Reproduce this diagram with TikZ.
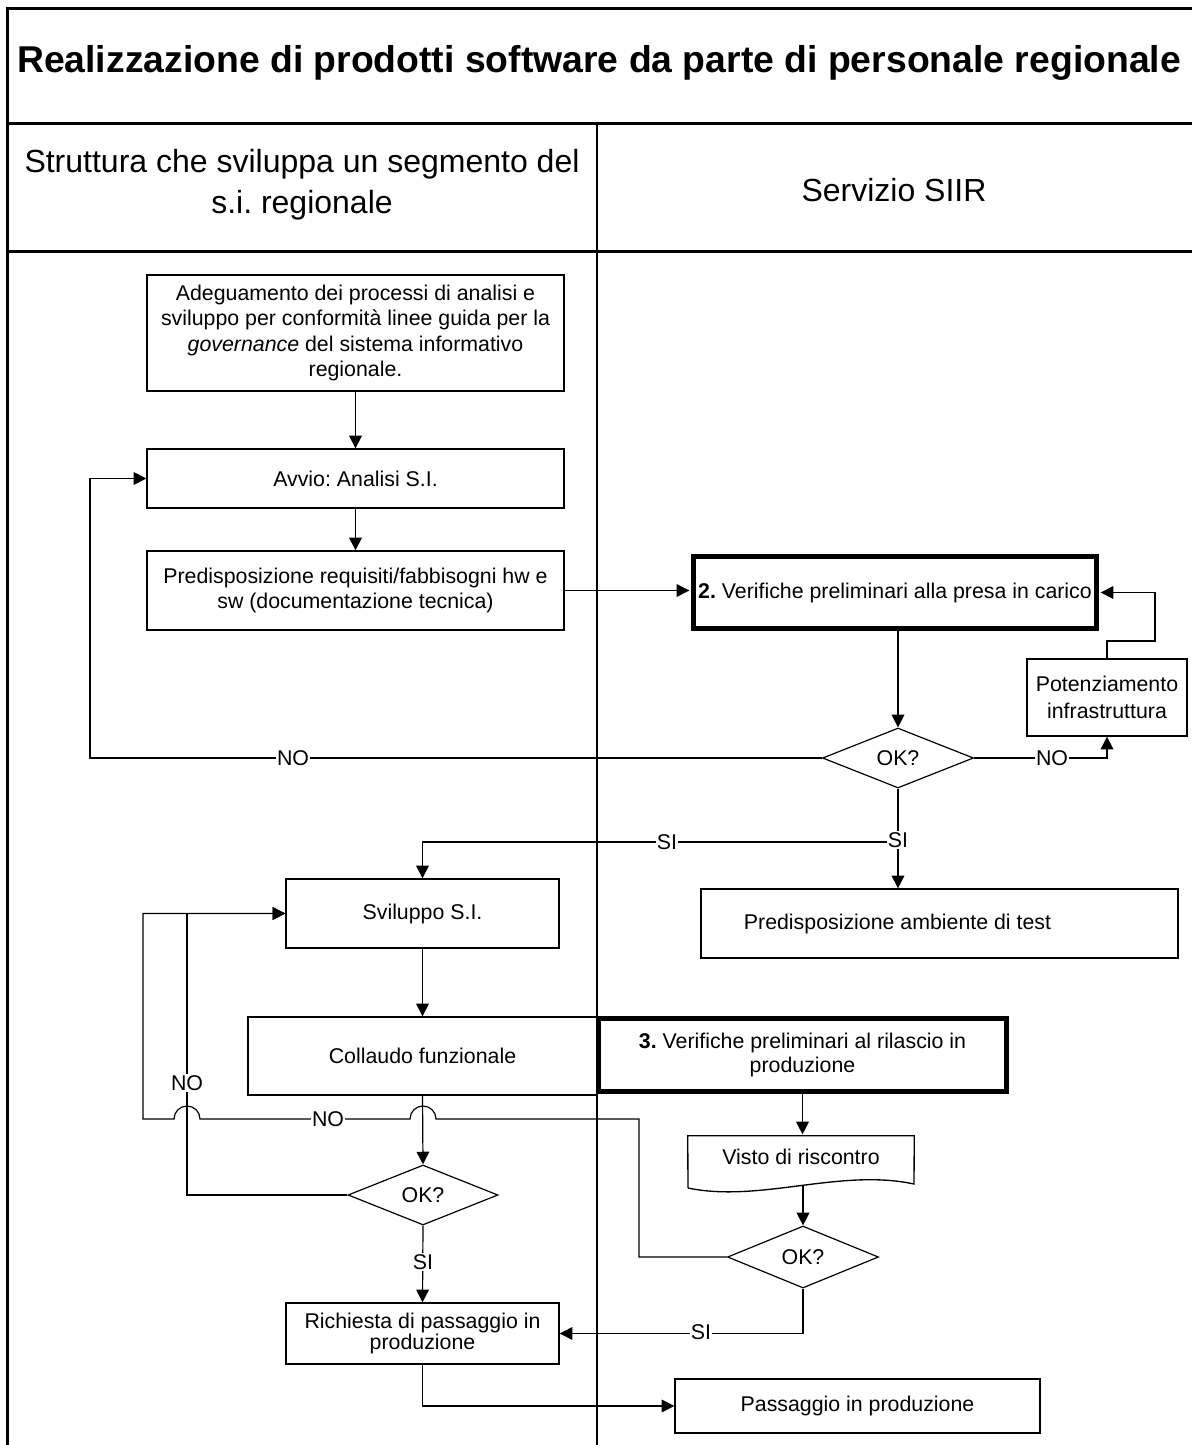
\documentclass[tikz,border=0pt]{standalone}
\usepackage{fontspec}
\setmainfont{Liberation Sans}
\usetikzlibrary{arrows.meta,shapes.geometric}
\frenchspacing
\begin{document}
\begin{tikzpicture}[x=0.75pt,y=-0.75pt,
  box/.style={draw, line width=1pt, align=center, inner sep=0pt, font=\fontsize{16}{19.2}\selectfont},
  thickbox/.style={box, line width=3.5pt},
  dec/.style={draw, diamond, line width=0.9pt, inner sep=0pt, font=\fontsize{16}{19.2}\selectfont},
  conn/.style={line width=0.9pt, -{Triangle[length=9.5pt,width=9.5pt]}},
  plain/.style={line width=0.9pt},
  lbl/.style={fill=white, inner sep=1pt, font=\fontsize{16}{19.2}\selectfont},
  frame/.style={line width=2.25pt}
]
\useasboundingbox (0,0) rectangle (1192,1445);

% frame
\draw[frame] (7,1445) -- (7,9) -- (1192,9);
\draw[frame] (7,123) -- (1192,123);
\draw[frame] (7,251) -- (1192,251);
\draw[line width=1.8pt] (597,123) -- (597,1445);

\node[font=\fontsize{28}{34}\selectfont\bfseries] (title) at (599,63) {Realizzazione di prodotti software da parte di personale regionale};
\node[align=center, font=\fontsize{24}{30.75}\selectfont] (hl) at (302,185) {Struttura che sviluppa un segmento del\\s.i. regionale};
\node[font=\fontsize{24}{29}\selectfont] (hr) at (894,190) {Servizio SIIR};

% boxes
\node[box, minimum width=312.75pt, minimum height=87pt, font=\fontsize{16}{19.1}\selectfont] (A) at (355.5,333)
  {Adeguamento dei processi di analisi e\\sviluppo per conformità linee guida per la\\\textit{governance} del sistema informativo\\regionale.};
\node[box, minimum width=312.75pt, minimum height=44.25pt] (B) at (355.5,478.5) {Avvio: Analisi S.I.};
\node[box, minimum width=312.75pt, minimum height=59.25pt, font=\fontsize{16}{19}\selectfont] (C) at (355.5,590.5)
  {Predisposizione requisiti/fabbisogni hw e\\sw (documentazione tecnica)};
\node[thickbox, minimum width=302pt, minimum height=54pt] (D) at (895,592.5)
  {\textbf{2.} Verifiche preliminari alla presa in carico};
\node[box, minimum width=120pt, minimum height=57.75pt, font=\fontsize{16}{20}\selectfont] (E) at (1107,697.5)
  {Potenziamento\\infrastruttura};
\node[dec, minimum width=113.25pt, minimum height=45pt] (F) at (898,758) {OK?};
\node[box, minimum width=357.75pt, minimum height=51.75pt] (G) at (939.5,923.5) {Predisposizione ambiente di test\hspace*{63pt}};
\node[box, minimum width=204.75pt, minimum height=51.75pt] (H) at (422.5,913.5) {Sviluppo S.I.};
\node[box, minimum width=261.75pt, minimum height=58.5pt] (I) at (422.5,1056) {Collaudo funzionale};
\node[thickbox, minimum width=306pt, minimum height=55pt, font=\fontsize{16}{17.3}\selectfont] (J) at (802.5,1055)
  {\textbf{3.} Verifiche preliminari al rilascio in\\produzione};
\node[inner sep=0pt, minimum width=169.5pt, minimum height=31.5pt, font=\fontsize{16}{19.2}\selectfont] (K) at (801,1157) {Visto di riscontro};
\draw[line width=1pt] (688,1188) -- (K.north west) -- (K.north east) -- (914,1184)
  .. controls (840,1168) and (760,1203) .. (688,1188);
\coordinate (Kb) at (803,1186);
\node[dec, minimum width=112.5pt, minimum height=45pt] (L) at (423,1195) {OK?};
\node[dec, minimum width=113.25pt, minimum height=46.5pt] (M) at (803,1257) {OK?};
\node[box, minimum width=204.75pt, minimum height=45.75pt, font=\fontsize{16}{15.5}\selectfont] (N) at (422.5,1333.5)
  {Richiesta di passaggio in\\produzione};
\node[box, minimum width=273.75pt, minimum height=40.5pt] (O) at (857.5,1406) {Passaggio in produzione};

% helper coordinates
\coordinate (loopA) at (90,758);
\coordinate (eloop) at (1155,641);
\coordinate (si1) at (898,842);
\coordinate (nl) at (187,1195);
\coordinate (m1) at (639,1119);

% connectors
\draw[conn] (A) -- (B);
\draw[conn] (B) -- (C);
\draw[conn, shorten >=1.5pt] (C.east) -- (C.east -| D.west);
\draw[conn] (F.north |- D.south) -- (F.north);
\draw[conn] (F.west) -- (loopA) |- (B.west);
\draw[conn] (F.east) -| (E.south);
\draw[conn, shorten >=1.5pt] (E.north) |- (eloop) |- (D.east);
\draw[conn] (F.south) -- (F.south |- G.north);
\draw[conn] (si1) -| (H.north);
\draw[conn] (H) -- (I);
\draw[conn] (I.south) -- (L.north);
\draw[conn] (L.west) -- (nl) |- (H.west);
\draw[conn] (M.west) -| (m1) -- (436,1119) arc[start angle=0, end angle=180, radius=9.75pt]
  -- (200,1119) arc[start angle=0, end angle=180, radius=9.75pt] -- (143,1119) |- (H.west);
\draw[conn, shorten >=1pt] (J.south) -- (J.south |- K.north);
\draw[conn] (Kb) -- (M.north);
\draw[conn] (L.south) -- (N.north);
\draw[conn] (M.south) |- (N.east);
\draw[conn] (N.south) |- (O.west);

% labels
\node[lbl] (noA) at (293,758) {NO};
\node[lbl] (noB) at (1052,758) {NO};
\node[lbl] (siA) at (898,840) {SI};
\node[lbl] (siB) at (667,842) {SI};
\node[lbl] (noC) at (187,1083) {NO};
\node[lbl] (noD) at (328,1119) {NO};
\node[lbl] (siC) at (423,1262) {SI};
\node[lbl] (siD) at (701,1332) {SI};
\end{tikzpicture}
\end{document}
